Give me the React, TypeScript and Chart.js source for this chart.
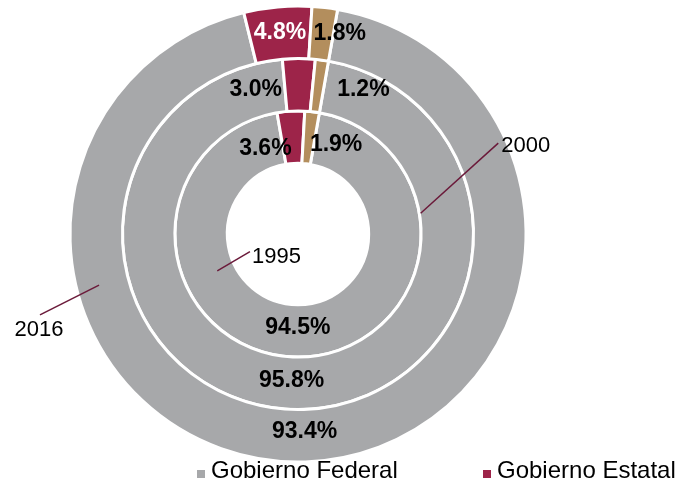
import React, { useEffect, useRef } from "react";
import { Chart, registerables } from "chart.js";

Chart.register(...registerables);

// ---------- data ----------
const categories = ["Gobierno Federal", "Gobierno Estatal", "Gobierno Municipal"];
const ringYears = ["2016", "2000", "1995"]; // outer -> inner
const values2016 = [93.4, 4.8, 1.8];
const values2000 = [95.8, 3.0, 1.2];
const values1995 = [94.5, 3.6, 1.9];
const legendShown = [0, 1];

// ---------- styles ----------
const sliceColors = ["#A7A8AA", "#9D2449", "#B38E5D"];
const leaderColor = "#6B1A3A";
const FONT = '"Liberation Sans", Arial, Helvetica, sans-serif';

// label nudges relative to each arc's centre point [ring][slice] = [dx, dy]
const labelNudges = [
  [[0, -4], [0, 0], [18, 0]],
  [[0, -3], [-43, 5], [45, 4]],
  [[0, -3], [-27, 11], [27, 7]],
];
const labelColors = [
  ["#000000", "#FFFFFF", "#000000"],
  ["#000000", "#000000", "#000000"],
  ["#000000", "#000000", "#000000"],
];

// series-name callouts (polar: degrees clockwise from top, radius px)
const callouts = [
  { ring: 2, a0: 245.4, r0: 88.8, a1: 249.8, r1: 51.2, dx: 2, dy: 5, align: "left" },
  { ring: 1, a0: 80.4, r0: 124.4, a1: 65.6, r1: 219.9, dx: 3, dy: 3, align: "left" },
  { ring: 0, a0: 255.6, r0: 205.4, a1: 252.6, r1: 270.4, dx: -1, dy: 15, align: "center" },
];

const fmt = (v: number) => v.toFixed(1) + "%";

const polar = (cx: number, cy: number, deg: number, r: number) => {
  const t = (deg * Math.PI) / 180;
  return { x: cx + r * Math.sin(t), y: cy - r * Math.cos(t) };
};

const labelPlugin = {
  id: "sliceLabels",
  afterDatasetsDraw(chart: any) {
    const ctx = chart.ctx;
    ctx.save();
    ctx.font = `bold 23px ${FONT}`;
    ctx.textAlign = "center";
    ctx.textBaseline = "middle";
    chart.data.datasets.forEach((ds: any, di: number) => {
      const meta = chart.getDatasetMeta(di);
      meta.data.forEach((arc: any, i: number) => {
        const p = arc.getCenterPoint();
        const [dx, dy] = labelNudges[di][i];
        ctx.fillStyle = labelColors[di][i];
        ctx.fillText(fmt(ds.data[i]), p.x + dx, p.y + dy);
      });
    });
    ctx.restore();
  },
  afterDraw(chart: any) {
    const ctx = chart.ctx;
    const arc0 = chart.getDatasetMeta(0).data[0];
    const cx = arc0.x;
    const cy = arc0.y;
    ctx.save();
    // callouts
    callouts.forEach((c) => {
      const s = polar(cx, cy, c.a0, c.r0);
      const e = polar(cx, cy, c.a1, c.r1);
      ctx.strokeStyle = leaderColor;
      ctx.lineWidth = 1.5;
      ctx.beginPath();
      ctx.moveTo(s.x, s.y);
      ctx.lineTo(e.x, e.y);
      ctx.stroke();
      ctx.fillStyle = "#000000";
      ctx.font = `22px ${FONT}`;
      ctx.textAlign = c.align as CanvasTextAlign;
      ctx.textBaseline = "middle";
      ctx.fillText(chart.data.datasets[c.ring].label, e.x + c.dx, e.y + c.dy);
    });
    // legend
    const legendX = [197, 483];
    ctx.font = `24px ${FONT}`;
    ctx.textAlign = "left";
    ctx.textBaseline = "alphabetic";
    legendShown.forEach((idx, k) => {
      ctx.fillStyle = sliceColors[idx];
      ctx.fillRect(legendX[k], 470, 8, 8);
      ctx.fillStyle = "#000000";
      ctx.fillText(categories[idx], legendX[k] + 14, 478);
    });
    ctx.restore();
  },
};

export default function App() {
  const ref = useRef<HTMLCanvasElement | null>(null);

  useEffect(() => {
    if (!ref.current) return;
    const series = [values2016, values2000, values1995];
    const chart = new Chart(ref.current, {
      type: "doughnut",
      data: {
        labels: categories,
        datasets: series.map((vals, i) => ({
          label: ringYears[i],
          data: vals,
          backgroundColor: sliceColors,
          borderColor: "#FFFFFF",
          borderWidth: 3,
          hoverBorderWidth: 3,
          hoverOffset: 0,
          offset: 0,
        })),
      },
      options: {
        responsive: false,
        animation: false,
        events: [],
        rotation: 10,
        cutout: "31%",
        radius: 228,
        layout: { padding: { left: 0, right: 79, top: 0, bottom: 14 } },
        plugins: {
          legend: { display: false },
          tooltip: { enabled: false },
        },
      },
      plugins: [labelPlugin],
    });
    return () => chart.destroy();
  }, []);

  return (
    <div style={{ position: "fixed", left: 0, top: 0, width: 675, height: 482, background: "#FFFFFF" }}>
      <canvas ref={ref} width={675} height={482} />
    </div>
  );
}
